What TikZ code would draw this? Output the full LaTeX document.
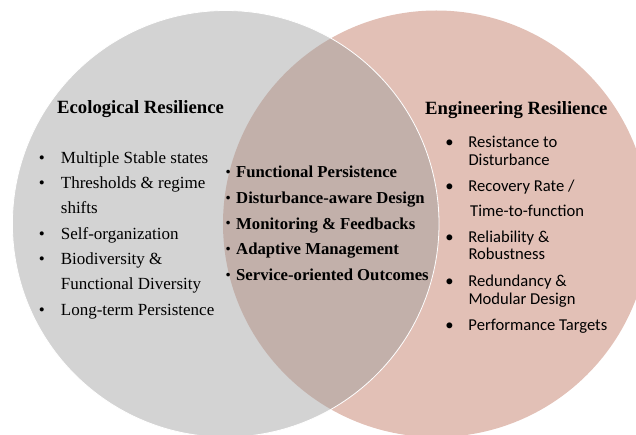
\documentclass[tikz,border=0pt]{standalone}
\usepackage{fontspec}
\setmainfont{Liberation Serif}
\newfontfamily\calibrifont{Carlito}
\usepackage{xcolor}
\usepackage{tikz}
\definecolor{ecogray}{RGB}{157,157,157}
\definecolor{engpink}{RGB}{226,192,182}
% bullet centred on the node's west edge, then a gap of #1
\newcommand{\bul}[1]{\makebox[0pt]{\textbullet}\hspace{#1}}
% smaller bullet for the overlap list
\newcommand{\smallbul}{\makebox[0pt]{\raisebox{1.3pt}{\scalebox{0.8}{\textbullet}}}\hspace{8pt}}
\tikzset{
    circtitle/.style={anchor=base west,inner sep=0pt,font=\fontsize{18.7}{22}\selectfont\bfseries},
    ecoline/.style={anchor=base west,inner sep=0pt,font=\fontsize{17}{20}\selectfont},
    sharedline/.style={anchor=base west,inner sep=0pt,font=\fontsize{16.7}{20}\selectfont\bfseries},
    engline/.style={anchor=base west,inner sep=0pt,font=\calibrifont\fontsize{16.6}{20}\selectfont}
}

\begin{document}
\begin{tikzpicture}[x=1pt,y=-1pt]
    \useasboundingbox (0,0) rectangle (636,435);

    % Engineering circle underneath, ecological circle see-through on top
    \fill[engpink] (436.3,223.8) circle (213.3pt);
    \draw[white,line width=0.8pt,fill=ecogray,fill opacity=0.45] (225.7,223.8) circle (213.3pt);

    % Titles
    \node[circtitle] (ecotitle) at (57,114) {Ecological Resilience};
    \node[circtitle] (engtitle) at (425,115) {Engineering Resilience};

    % Ecological resilience list
    \node[ecoline] (eco1) at (41.7,163.3) {\bul{19pt}Multiple Stable states};
    \node[ecoline] (eco2) at (41.7,188.6) {\bul{19pt}Thresholds \& regime};
    \node[ecoline] (eco3) at (60.7,213.9) {shifts};
    \node[ecoline] (eco4) at (41.7,239.2) {\bul{19pt}Self-organization};
    \node[ecoline] (eco5) at (41.7,264.5) {\bul{19pt}Biodiversity \&};
    \node[ecoline] (eco6) at (60.7,289.8) {Functional Diversity};
    \node[ecoline] (eco7) at (41.7,315.1) {\bul{19pt}Long-term Persistence};

    % Shared items in the overlap
    \node[sharedline] (both1) at (228,178.0) {\smallbul Functional Persistence};
    \node[sharedline] (both2) at (228,203.6) {\smallbul Disturbance-aware Design};
    \node[sharedline] (both3) at (228,229.2) {\smallbul Monitoring \& Feedbacks};
    \node[sharedline] (both4) at (228,254.8) {\smallbul Adaptive Management};
    \node[sharedline] (both5) at (228,280.4) {\smallbul Service-oriented Outcomes};

    % Engineering resilience list
    \node[engline] (eng1) at (449.3,147.7) {\bul{19pt}Resistance to};
    \node[engline] (eng2) at (468.3,165.7) {Disturbance};
    \node[engline] (eng3) at (449.3,191.7) {\bul{19pt}Recovery Rate /};
    \node[engline] (eng4) at (470,216.7) {Time-to-function};
    \node[engline] (eng5) at (449.3,242.7) {\bul{19pt}Reliability \&};
    \node[engline] (eng6) at (468.3,260) {Robustness};
    \node[engline] (eng7) at (449.3,286.7) {\bul{19pt}Redundancy \&};
    \node[engline] (eng8) at (468.3,304.3) {Modular Design};
    \node[engline] (eng9) at (449.3,330) {\bul{19pt}Performance Targets};
\end{tikzpicture}
\end{document}
